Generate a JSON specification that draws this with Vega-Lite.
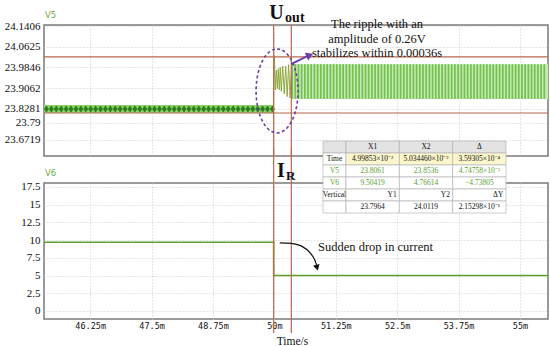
{
"$schema":"https://vega.github.io/schema/vega-lite/v6.json",
"background":"white",
"padding":{"left":3,"top":2,"right":0,"bottom":0},
"bounds":"flush",
"spacing":27,
"config":{
 "view":{"stroke":"#7a7a7a","strokeWidth":1.5},
 "axis":{"ticks":false,"domain":false,"grid":true,"gridColor":"#cccccc","gridDash":[1,2],"labelColor":"#111111","labelOverlap":false}
},
"datasets":{
 "bands":[{"seg":"pre","t":45.31,"t1":49.99,"v":23.813,"v2":23.843},{"seg":"post","t":50.35,"t1":55.57,"v":23.866,"v2":23.997}],
 "diamonds":[{"t":45.36},{"t":45.46},{"t":45.56},{"t":45.66},{"t":45.76},{"t":45.86},{"t":45.96},{"t":46.06},{"t":46.16},{"t":46.26},{"t":46.36},{"t":46.46},{"t":46.56},{"t":46.66},{"t":46.76},{"t":46.86},{"t":46.96},{"t":47.06},{"t":47.16},{"t":47.26},{"t":47.36},{"t":47.46},{"t":47.56},{"t":47.66},{"t":47.76},{"t":47.86},{"t":47.96},{"t":48.06},{"t":48.16},{"t":48.26},{"t":48.36},{"t":48.46},{"t":48.56},{"t":48.66},{"t":48.76},{"t":48.86},{"t":48.96},{"t":49.06},{"t":49.16},{"t":49.26},{"t":49.36},{"t":49.46},{"t":49.56},{"t":49.66},{"t":49.76},{"t":49.86},{"t":49.96}],
 "stripes":[{"t":50.36},{"t":50.425},{"t":50.49},{"t":50.555},{"t":50.62},{"t":50.685},{"t":50.75},{"t":50.815},{"t":50.88},{"t":50.945},{"t":51.01},{"t":51.075},{"t":51.14},{"t":51.205},{"t":51.27},{"t":51.335},{"t":51.4},{"t":51.465},{"t":51.53},{"t":51.595},{"t":51.66},{"t":51.725},{"t":51.79},{"t":51.855},{"t":51.92},{"t":51.985},{"t":52.05},{"t":52.115},{"t":52.18},{"t":52.245},{"t":52.31},{"t":52.375},{"t":52.44},{"t":52.505},{"t":52.57},{"t":52.635},{"t":52.7},{"t":52.765},{"t":52.83},{"t":52.895},{"t":52.96},{"t":53.025},{"t":53.09},{"t":53.155},{"t":53.22},{"t":53.285},{"t":53.35},{"t":53.415},{"t":53.48},{"t":53.545},{"t":53.61},{"t":53.675},{"t":53.74},{"t":53.805},{"t":53.87},{"t":53.935},{"t":54.0},{"t":54.065},{"t":54.13},{"t":54.195},{"t":54.26},{"t":54.325},{"t":54.39},{"t":54.455},{"t":54.52},{"t":54.585},{"t":54.65},{"t":54.715},{"t":54.78},{"t":54.845},{"t":54.91},{"t":54.975},{"t":55.04},{"t":55.105},{"t":55.17},{"t":55.235},{"t":55.3},{"t":55.365},{"t":55.43},{"t":55.495}],
 "trans":[{"t":49.98,"v":23.828},{"t":50.0,"v":24.03},{"t":50.02,"v":23.9},{"t":50.04,"v":23.975},{"t":50.06,"v":23.905},{"t":50.08,"v":23.98},{"t":50.1,"v":23.9},{"t":50.12,"v":23.985},{"t":50.14,"v":23.895},{"t":50.17,"v":23.99},{"t":50.2,"v":23.885},{"t":50.23,"v":23.99},{"t":50.26,"v":23.875},{"t":50.29,"v":23.995},{"t":50.32,"v":23.87},{"t":50.35,"v":23.995}],
 "hlines":[{"v":24.024},{"v":23.813}],
 "cursors":[{"t":49.985},{"t":50.345}],
 "v6":[{"k":0,"t":45.31,"i":9.7},{"k":1,"t":49.985,"i":9.7},{"k":2,"t":49.985,"i":5.0},{"k":3,"t":55.57,"i":5.0}],
 "curve":[{"t":50.11,"i":9.62},{"t":50.34,"i":9.55},{"t":50.544,"i":9.19},{"t":50.727,"i":8.2},{"t":50.829,"i":7.08},{"t":50.862,"i":6.4}],
 "tbl":[
  {"row":"hdr","col":"lab","text":""},{"row":"hdr","col":"X1","text":"X1"},{"row":"hdr","col":"X2","text":"X2"},{"row":"hdr","col":"D","text":"Δ"},
  {"row":"Time","col":"lab","text":"Time"},{"row":"Time","col":"X1","text":"4.99853×10⁻²"},{"row":"Time","col":"X2","text":"5.034460×10⁻²"},{"row":"Time","col":"D","text":"3.59305×10⁻⁴"},
  {"row":"V5","col":"lab","text":"V5"},{"row":"V5","col":"X1","text":"23.8061"},{"row":"V5","col":"X2","text":"23.8536"},{"row":"V5","col":"D","text":"4.74758×10⁻²"},
  {"row":"V6","col":"lab","text":"V6"},{"row":"V6","col":"X1","text":"9.50419"},{"row":"V6","col":"X2","text":"4.76614"},{"row":"V6","col":"D","text":"−4.73805"},
  {"row":"Vertical","col":"lab","text":"Vertical"},{"row":"Vertical","col":"X1","text":"Y1"},{"row":"Vertical","col":"X2","text":"Y2"},{"row":"Vertical","col":"D","text":"ΔY"},
  {"row":"Yv","col":"lab","text":""},{"row":"Yv","col":"X1","text":"23.7964"},{"row":"Yv","col":"X2","text":"24.0119"},{"row":"Yv","col":"D","text":"2.15298×10⁻¹"}
 ]
},
"vconcat":[
 {"width":504,"height":131,
  "layer":[
   {"data":{"name":"bands"},"mark":{"type":"rect"},
    "encoding":{
     "x":{"field":"t","type":"quantitative","scale":{"domain":[45.31,55.57],"nice":false,"zero":false},"axis":{"values":[46.25,47.5,48.75,50,51.25,52.5,53.75,55],"tickCount":30,"labels":false,"title":null}},
     "x2":{"field":"t1"},
     "y":{"field":"v","type":"quantitative","scale":{"domain":[23.651,24.1444],"nice":false,"zero":false},"axis":{"values":[24.1406,24.0625,23.9846,23.9062,23.8281,23.7754,23.7114],"tickCount":30,"labelExpr":"datum.value < 23.72 ? '23.6719' : datum.value < 23.8 ? '23.79' : format(datum.value, '.4f')","labelFont":"Liberation Serif","labelFontSize":11,"labelPadding":4,"labelOverlap":false,"labelBound":false,"title":null}},
     "y2":{"field":"v2"},
     "fill":{"condition":{"test":"datum.seg==='pre'","value":"#8ad268"},"value":"#c7eab5"}
    }},
   {"data":{"name":"stripes"},"mark":{"type":"rule","color":"#72c24f","strokeWidth":1.7},
    "encoding":{"x":{"field":"t","type":"quantitative","scale":{"domain":[45.31,55.57],"nice":false,"zero":false}},"y":{"datum":23.866,"type":"quantitative"},"y2":{"datum":23.997}}},
   {"data":{"name":"diamonds"},"mark":{"type":"point","shape":"M0,-1L0.7,0L0,1L-0.7,0Z","size":49,"filled":true,"color":"#2f7d1d","opacity":1},
    "encoding":{"x":{"field":"t","type":"quantitative"},"y":{"datum":23.828,"type":"quantitative"}}},
   {"data":{"name":"trans"},"mark":{"type":"line","color":"#8cab3c","strokeWidth":1},
    "encoding":{"x":{"field":"t","type":"quantitative"},"y":{"field":"v","type":"quantitative"}}},
   {"data":{"name":"hlines"},"mark":{"type":"rule","color":"#b8694f","strokeWidth":1.2},
    "encoding":{"y":{"field":"v","type":"quantitative"}}},
   {"data":{"name":"cursors"},"mark":{"type":"rule","color":"#b8694f","strokeWidth":1.2},
    "encoding":{"x":{"field":"t","type":"quantitative"}}},
   {"data":{"values":[{"t":50.055,"v":23.896}]},"mark":{"type":"point","shape":"M0,-1C0.276,-1,0.5,-0.552,0.5,0C0.5,0.552,0.276,1,0,1C-0.276,1,-0.5,0.552,-0.5,0C-0.5,-0.552,-0.276,-1,0,-1Z","size":7056,"filled":false,"stroke":"#6b3fa8","strokeWidth":1.6,"strokeDash":[3,2.5],"opacity":1},
    "encoding":{"x":{"field":"t","type":"quantitative"},"y":{"field":"v","type":"quantitative"}}},
   {"data":{"values":[{"t":50.34,"v":23.997,"t2":50.66,"v2":24.026}]},"mark":{"type":"rule","color":"#6b3fa8","strokeWidth":2},
    "encoding":{"x":{"field":"t","type":"quantitative"},"y":{"field":"v","type":"quantitative"},"x2":{"field":"t2"},"y2":{"field":"v2"}}},
   {"data":{"values":[{"t":50.72,"v":24.031}]},"mark":{"type":"point","shape":"triangle-right","angle":-24,"size":70,"filled":true,"color":"#6b3fa8","opacity":1},
    "encoding":{"x":{"field":"t","type":"quantitative"},"y":{"field":"v","type":"quantitative"}}},
   {"data":{"values":[{"t":45.33,"v":24.182,"label":"V5"}]},"mark":{"type":"text","align":"left","baseline":"middle","font":"DejaVu Sans","fontSize":8.5,"color":"#6faa3a"},
    "encoding":{"x":{"field":"t","type":"quantitative"},"y":{"field":"v","type":"quantitative"},"text":{"field":"label"}}},
   {"data":{"values":[{"t":49.893,"v":24.167,"label":"U"}]},"mark":{"type":"text","align":"left","baseline":"alphabetic","font":"Liberation Serif","fontWeight":"bold","fontSize":20,"color":"#111111"},
    "encoding":{"x":{"field":"t","type":"quantitative"},"y":{"field":"v","type":"quantitative"},"text":{"field":"label"}}},
   {"data":{"values":[{"t":50.218,"v":24.156,"label":"out"}]},"mark":{"type":"text","align":"left","baseline":"alphabetic","font":"Liberation Serif","fontWeight":"bold","fontSize":14,"color":"#111111"},
    "encoding":{"x":{"field":"t","type":"quantitative"},"y":{"field":"v","type":"quantitative"},"text":{"field":"label"}}},
   {"data":{"values":[{"t":52.09,"v":24.133,"label":"The ripple with an\namplitude of 0.26V\nstabilizes within 0.00036s"}]},"mark":{"type":"text","align":"center","baseline":"alphabetic","font":"Liberation Serif","fontSize":12.5,"lineBreak":"\n","lineHeight":14.5,"color":"#111111"},
    "encoding":{"x":{"field":"t","type":"quantitative"},"y":{"field":"v","type":"quantitative"},"text":{"field":"label"}}}
  ]},
 {"width":504,"height":136,
  "resolve":{"scale":{"x":"independent","y":"independent"}},
  "layer":[
   {"layer":[
     {"data":{"name":"v6"},"mark":{"type":"line","color":"#5f9f2e","strokeWidth":1.6},
      "encoding":{
       "x":{"field":"t","type":"quantitative","scale":{"domain":[45.31,55.57],"nice":false,"zero":false},"axis":{"values":[46.25,47.5,48.75,50,51.25,52.5,53.75,55],"tickCount":30,"labelExpr":"datum.value + 'm'","labelFont":"DejaVu Sans Mono","labelFontSize":8.5,"labelPadding":2,"labelOverlap":false,"title":"Time/s","titleFont":"Liberation Serif","titleFontSize":11.5,"titleFontWeight":"normal","titleX":248,"titleAlign":"center","titleY":25,"titleBaseline":"alphabetic","titleColor":"#111111"}},
       "y":{"field":"i","type":"quantitative","scale":{"domain":[-1.13,18.06],"nice":false,"zero":false},"axis":{"values":[0,2.5,5,7.5,10,12.5,15,17.5],"tickCount":30,"labelExpr":"'' + datum.value","labelFont":"Liberation Serif","labelFontSize":11,"labelPadding":4,"labelOverlap":false,"labelBound":false,"title":null}},
       "order":{"field":"k","type":"quantitative"}
      }},
     {"data":{"name":"cursors"},"mark":{"type":"rule","color":"#b8694f","strokeWidth":1.2},
      "encoding":{"x":{"field":"t","type":"quantitative"},"y":{"datum":22.9,"type":"quantitative"},"y2":{"datum":-3.1}}},
     {"data":{"values":[{"t":45.33,"i":19.47,"label":"V6"}]},"mark":{"type":"text","align":"left","baseline":"middle","font":"DejaVu Sans","fontSize":8.5,"color":"#6faa3a"},
      "encoding":{"x":{"field":"t","type":"quantitative"},"y":{"field":"i","type":"quantitative"},"text":{"field":"label"}}},
     {"data":{"values":[{"t":50.055,"i":18.9,"label":"I"}]},"mark":{"type":"text","align":"left","baseline":"alphabetic","font":"Liberation Serif","fontWeight":"bold","fontSize":20,"color":"#111111"},
      "encoding":{"x":{"field":"t","type":"quantitative"},"y":{"field":"i","type":"quantitative"},"text":{"field":"label"}}},
     {"data":{"values":[{"t":50.238,"i":18.49,"label":"R"}]},"mark":{"type":"text","align":"left","baseline":"alphabetic","font":"Liberation Serif","fontWeight":"bold","fontSize":13,"color":"#111111"},
      "encoding":{"x":{"field":"t","type":"quantitative"},"y":{"field":"i","type":"quantitative"},"text":{"field":"label"}}},
     {"data":{"values":[{"t":50.889,"i":8.49,"label":"Sudden drop in current"}]},"mark":{"type":"text","align":"left","baseline":"alphabetic","font":"Liberation Serif","fontSize":12.5,"color":"#111111"},
      "encoding":{"x":{"field":"t","type":"quantitative"},"y":{"field":"i","type":"quantitative"},"text":{"field":"label"}}},
     {"data":{"name":"curve"},"mark":{"type":"line","color":"#111111","strokeWidth":1.2,"interpolate":"monotone"},
      "encoding":{"x":{"field":"t","type":"quantitative"},"y":{"field":"i","type":"quantitative"}}},
     {"data":{"values":[{"t":50.868,"i":6.1}]},"mark":{"type":"point","shape":"triangle-down","angle":-15,"size":45,"filled":true,"color":"#111111","opacity":1},
      "encoding":{"x":{"field":"t","type":"quantitative"},"y":{"field":"i","type":"quantitative"}}}
   ]},
   {"data":{"name":"tbl"},"transform":[{"filter":"datum.col==='lab'"}],
    "encoding":{
     "x":{"field":"col","type":"nominal","scale":{"type":"band","domain":["lab"],"range":[279,302],"paddingInner":0,"paddingOuter":0},"axis":null},
     "y":{"field":"row","type":"nominal","scale":{"type":"band","domain":["hdr","Time","V5","V6","Vertical","Yv"],"range":[-42,30],"paddingInner":0,"paddingOuter":0},"axis":null}
    },
    "layer":[
     {"mark":{"type":"rect","stroke":"#b5b5b5","strokeWidth":0.7},"encoding":{"fill":{"condition":{"test":"datum.row==='hdr'","value":"#e3e3e3"},"value":"#ffffff"}}},
     {"mark":{"type":"text","font":"Liberation Serif","fontSize":7.5,"baseline":"middle"},"encoding":{"text":{"field":"text"},"color":{"condition":{"test":"datum.row==='V5'||datum.row==='V6'","value":"#5aa02c"},"value":"#111111"}}}
    ]},
   {"data":{"name":"tbl"},"transform":[{"filter":"datum.col!=='lab'"}],
    "encoding":{
     "x":{"field":"col","type":"nominal","scale":{"type":"band","domain":["X1","X2","D"],"range":[302,462],"paddingInner":0,"paddingOuter":0},"axis":null},
     "y":{"field":"row","type":"nominal","scale":{"type":"band","domain":["hdr","Time","V5","V6","Vertical","Yv"],"range":[-42,30],"paddingInner":0,"paddingOuter":0},"axis":null}
    },
    "layer":[
     {"mark":{"type":"rect","stroke":"#b5b5b5","strokeWidth":0.7},"encoding":{"fill":{"condition":[{"test":"datum.row==='hdr'","value":"#e3e3e3"},{"test":"datum.row==='Time'","value":"#fbf6cc"}],"value":"#ffffff"}}},
     {"transform":[{"filter":"datum.row!=='Vertical'"}],"mark":{"type":"text","font":"Liberation Serif","fontSize":7.5,"baseline":"middle"},"encoding":{"text":{"field":"text"},"color":{"condition":{"test":"datum.row==='V5'||datum.row==='V6'","value":"#5aa02c"},"value":"#111111"}}},
     {"transform":[{"filter":"datum.row==='Vertical'"}],"mark":{"type":"text","font":"Liberation Serif","fontSize":7.5,"baseline":"middle","align":"right"},"encoding":{"x":{"field":"col","type":"nominal","bandPosition":0.95,"scale":{"type":"band","domain":["X1","X2","D"],"range":[302,462],"paddingInner":0,"paddingOuter":0},"axis":null},"text":{"field":"text"},"color":{"value":"#111111"}}}
    ]}
  ]}
]
}
